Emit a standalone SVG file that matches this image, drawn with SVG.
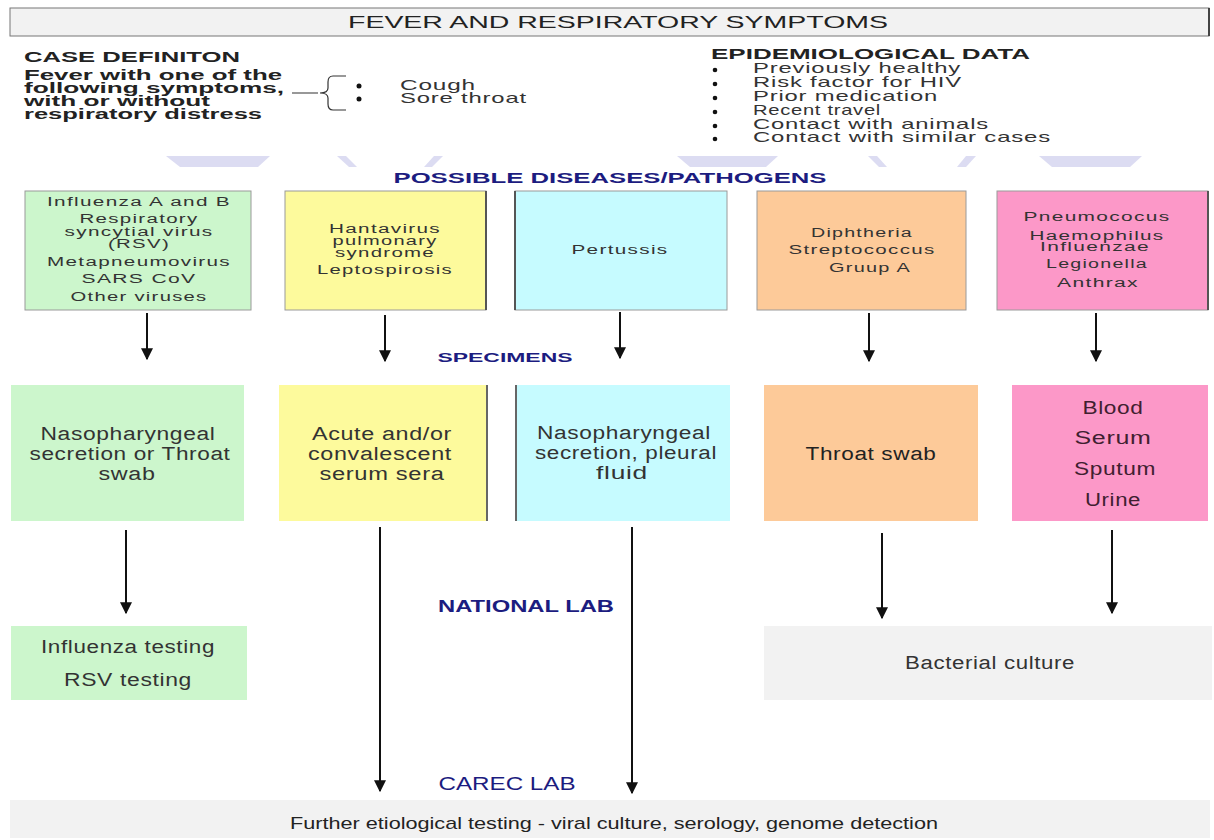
<svg xmlns="http://www.w3.org/2000/svg" width="1214" height="840" viewBox="0 0 1214 840">
<defs>
<style>
text{font-family:"Liberation Sans",Arial,sans-serif;fill:#333;}
.b{font-weight:bold;fill:#222;}
.nv{fill:#1c1c80;font-weight:bold;}
.nvr{fill:#1c1c80;}
.dk{fill:#222;}
.pk{fill:#402030;}
.dz{font-size:12.5px;text-anchor:middle;letter-spacing:0.8px;}
.sp{font-size:18px;text-anchor:middle;letter-spacing:0.5px;}
.ep{font-size:14.5px;letter-spacing:0.5px;}
.lav{fill:#dcdcf2;}
.arr{stroke:#111;stroke-width:2;fill:none;marker-end:url(#ah);}
</style>
<marker id="ah" viewBox="0 0 10 10" refX="9" refY="5" markerWidth="6" markerHeight="6" markerUnits="strokeWidth" orient="auto">
<path d="M0,0 L10,5 L0,10 z" fill="#111"/>
</marker>
</defs>
<rect width="1214" height="840" fill="#fff"/>

<g id="title">
<rect x="10" y="8" width="1199" height="28" fill="#f2f2f2" stroke="#777" stroke-width="1"/>
<line x1="1209" y1="8" x2="1209" y2="36" stroke="#444" stroke-width="2"/>
<text x="618" y="28" font-size="17" text-anchor="middle" textLength="540" lengthAdjust="spacingAndGlyphs" class="dk">FEVER AND RESPIRATORY SYMPTOMS</text>
</g>

<g id="case-definition">
<text x="24" y="62" font-size="14" class="b" textLength="216" lengthAdjust="spacingAndGlyphs">CASE DEFINITON</text>
<text x="24" y="80" font-size="14.5" class="b" textLength="258" lengthAdjust="spacingAndGlyphs">Fever with one of the</text>
<text x="24" y="93" font-size="14.5" class="b" textLength="260" lengthAdjust="spacingAndGlyphs">following symptoms,</text>
<text x="24" y="106" font-size="14.5" class="b" textLength="186" lengthAdjust="spacingAndGlyphs">with or without</text>
<text x="24" y="119" font-size="14.5" class="b" textLength="238" lengthAdjust="spacingAndGlyphs">respiratory distress</text>
<path d="M292,93 L318,93 M346,76 L333,76 Q328,76 328,82 L328,88 Q328,93 320,93 Q328,93 328,98 L328,104 Q328,110 333,110 L346,110" stroke="#333" stroke-width="1.2" fill="none"/>
<circle cx="359" cy="86" r="2.5" fill="#111"/>
<circle cx="359" cy="99" r="2.5" fill="#111"/>
<text x="400" y="90" class="ep" textLength="76" lengthAdjust="spacingAndGlyphs">Cough</text>
<text x="400" y="103" class="ep" textLength="127" lengthAdjust="spacingAndGlyphs">Sore throat</text>
</g>

<g id="epidemiological-data">
<text x="711" y="59" font-size="14" class="b" textLength="319" lengthAdjust="spacingAndGlyphs">EPIDEMIOLOGICAL DATA</text>
<circle cx="715" cy="70" r="2.3" fill="#111"/>
<circle cx="715" cy="84" r="2.3" fill="#111"/>
<circle cx="715" cy="98" r="2.3" fill="#111"/>
<circle cx="715" cy="112" r="2.3" fill="#111"/>
<circle cx="715" cy="126" r="2.3" fill="#111"/>
<circle cx="715" cy="139" r="2.3" fill="#111"/>
<text x="753" y="73" class="ep" textLength="208" lengthAdjust="spacingAndGlyphs">Previously healthy</text>
<text x="753" y="87" class="ep" textLength="209" lengthAdjust="spacingAndGlyphs">Risk factor for HIV</text>
<text x="753" y="101" class="ep" textLength="185" lengthAdjust="spacingAndGlyphs">Prior medication</text>
<text x="753" y="115" class="ep" textLength="128" lengthAdjust="spacingAndGlyphs">Recent travel</text>
<text x="753" y="129" class="ep" textLength="236" lengthAdjust="spacingAndGlyphs">Contact with animals</text>
<text x="753" y="142" class="ep" textLength="298" lengthAdjust="spacingAndGlyphs">Contact with similar cases</text>
</g>

<g id="background-shapes">
<polygon class="lav" points="166,156 270,156 258,167 180,167"/>
<polygon class="lav" points="337,156 346,156 357,167 349,167"/>
<polygon class="lav" points="434,156 443,156 432,167 424,167"/>
<polygon class="lav" points="677,156 778,156 766,167 690,167"/>
<polygon class="lav" points="868,156 877,156 887,167 879,167"/>
<polygon class="lav" points="966,156 976,156 966,167 957,167"/>
<polygon class="lav" points="1039,156 1142,156 1130,167 1052,167"/>
</g>

<g id="label-diseases">
<text x="610" y="183" font-size="14" class="nv" text-anchor="middle" textLength="433" lengthAdjust="spacingAndGlyphs">POSSIBLE DISEASES/PATHOGENS</text>
</g>

<g id="disease-viral">
<rect x="25" y="191" width="226" height="119" fill="#ccf6cc" stroke="#9a9a9a" stroke-width="1"/>
<text x="139" y="206" class="dz" textLength="184" lengthAdjust="spacingAndGlyphs">Influenza A and B</text>
<text x="139" y="223" class="dz" textLength="119" lengthAdjust="spacingAndGlyphs">Respiratory</text>
<text x="139" y="236" class="dz" textLength="149" lengthAdjust="spacingAndGlyphs">syncytial virus</text>
<text x="139" y="248" class="dz" textLength="62" lengthAdjust="spacingAndGlyphs">(RSV)</text>
<text x="139" y="266" class="dz" textLength="184" lengthAdjust="spacingAndGlyphs">Metapneumovirus</text>
<text x="139" y="283" class="dz" textLength="115" lengthAdjust="spacingAndGlyphs">SARS CoV</text>
<text x="139" y="301" class="dz" textLength="137" lengthAdjust="spacingAndGlyphs">Other viruses</text>
</g>

<g id="disease-hanta">
<rect x="285" y="191" width="201" height="119" fill="#fdfa9c" stroke="#9a9a9a" stroke-width="1"/>
<line x1="486" y1="191" x2="486" y2="310" stroke="#555" stroke-width="2"/>
<text x="385" y="233" class="dz" textLength="112" lengthAdjust="spacingAndGlyphs">Hantavirus</text>
<text x="385" y="245" class="dz" textLength="105" lengthAdjust="spacingAndGlyphs">pulmonary</text>
<text x="385" y="257" class="dz" textLength="100" lengthAdjust="spacingAndGlyphs">syndrome</text>
<text x="385" y="274" class="dz" textLength="136" lengthAdjust="spacingAndGlyphs">Leptospirosis</text>
</g>

<g id="disease-pertussis">
<rect x="515" y="191" width="212" height="119" fill="#c6fbff" stroke="#9a9a9a" stroke-width="1"/>
<line x1="515" y1="191" x2="515" y2="310" stroke="#555" stroke-width="2"/>
<text x="620" y="254" class="dz" textLength="97" lengthAdjust="spacingAndGlyphs">Pertussis</text>
</g>

<g id="disease-diphtheria">
<rect x="757" y="191" width="209" height="119" fill="#fdca99" stroke="#9a9a9a" stroke-width="1"/>
<text x="862" y="237" class="dz" textLength="102" lengthAdjust="spacingAndGlyphs">Diphtheria</text>
<text x="862" y="254" class="dz" textLength="147" lengthAdjust="spacingAndGlyphs">Streptococcus</text>
<text x="870" y="272" class="dz" textLength="82" lengthAdjust="spacingAndGlyphs">Gruup A</text>
</g>

<g id="disease-bacterial">
<rect x="997" y="191" width="211" height="119" fill="#fc98c8" stroke="#9a9a9a" stroke-width="1"/>
<line x1="1208" y1="191" x2="1208" y2="310" stroke="#555" stroke-width="2"/>
<text x="1097" y="221" class="dz" textLength="147" lengthAdjust="spacingAndGlyphs">Pneumococus</text>
<text x="1097" y="240" class="dz" textLength="135" lengthAdjust="spacingAndGlyphs">Haemophilus</text>
<text x="1095" y="251" class="dz" textLength="110" lengthAdjust="spacingAndGlyphs">Influenzae</text>
<text x="1097" y="268" class="dz" textLength="102" lengthAdjust="spacingAndGlyphs">Legionella</text>
<text x="1098" y="287" class="dz" textLength="82" lengthAdjust="spacingAndGlyphs">Anthrax</text>
</g>

<g id="label-specimens">
<text x="505" y="362" font-size="12" class="nv" text-anchor="middle" textLength="135" lengthAdjust="spacingAndGlyphs">SPECIMENS</text>
</g>

<g id="specimen-naso">
<rect x="11" y="385" width="233" height="136" fill="#ccf6cc"/>
<text x="128" y="440" class="sp" textLength="175" lengthAdjust="spacingAndGlyphs">Nasopharyngeal</text>
<text x="130" y="460" class="sp" textLength="201" lengthAdjust="spacingAndGlyphs">secretion or Throat</text>
<text x="127" y="480" class="sp" textLength="57" lengthAdjust="spacingAndGlyphs">swab</text>
</g>

<g id="specimen-serum">
<rect x="279" y="385" width="208" height="136" fill="#fdfa9c"/>
<line x1="487" y1="385" x2="487" y2="521" stroke="#666" stroke-width="2"/>
<text x="382" y="440" class="sp" textLength="140" lengthAdjust="spacingAndGlyphs">Acute and/or</text>
<text x="380" y="460" class="sp" textLength="144" lengthAdjust="spacingAndGlyphs">convalescent</text>
<text x="382" y="480" class="sp" textLength="125" lengthAdjust="spacingAndGlyphs">serum sera</text>
</g>

<g id="specimen-pleural">
<rect x="515" y="385" width="215" height="136" fill="#c6fbff"/>
<line x1="516" y1="385" x2="516" y2="521" stroke="#666" stroke-width="2"/>
<text x="624" y="439" class="sp" textLength="174" lengthAdjust="spacingAndGlyphs">Nasopharyngeal</text>
<text x="626" y="459" class="sp" textLength="182" lengthAdjust="spacingAndGlyphs">secretion, pleural</text>
<text x="622" y="479" class="sp" textLength="52" lengthAdjust="spacingAndGlyphs">fluid</text>
</g>

<g id="specimen-throat">
<rect x="764" y="385" width="214" height="136" fill="#fdca99"/>
<text x="871" y="460" class="sp dk" textLength="131" lengthAdjust="spacingAndGlyphs">Throat swab</text>
</g>

<g id="specimen-blood">
<rect x="1012" y="385" width="196" height="136" fill="#fc98c8"/>
<text x="1113" y="414" class="sp pk" textLength="61" lengthAdjust="spacingAndGlyphs">Blood</text>
<text x="1113" y="444" class="sp pk" textLength="77" lengthAdjust="spacingAndGlyphs">Serum</text>
<text x="1115" y="475" class="sp pk" textLength="82" lengthAdjust="spacingAndGlyphs">Sputum</text>
<text x="1113" y="506" class="sp pk" textLength="56" lengthAdjust="spacingAndGlyphs">Urine</text>
</g>

<g id="label-national">
<text x="526" y="612" font-size="16" class="nv" text-anchor="middle" textLength="176" lengthAdjust="spacingAndGlyphs">NATIONAL LAB</text>
</g>

<g id="result-influenza">
<rect x="11" y="626" width="236" height="74" fill="#ccf6cc"/>
<text x="128" y="653" class="sp" textLength="174" lengthAdjust="spacingAndGlyphs">Influenza testing</text>
<text x="128" y="686" class="sp" textLength="128" lengthAdjust="spacingAndGlyphs">RSV testing</text>
</g>

<g id="result-bacterial">
<rect x="764" y="626" width="448" height="74" fill="#f2f2f2"/>
<text x="990" y="669" class="sp" textLength="170" lengthAdjust="spacingAndGlyphs">Bacterial culture</text>
</g>

<g id="label-carec">
<text x="507" y="790" font-size="19" class="nvr" text-anchor="middle" textLength="137" lengthAdjust="spacingAndGlyphs">CAREC LAB</text>
</g>

<g id="result-further">
<rect x="10" y="800" width="1200" height="38" fill="#f2f2f2"/>
<text x="614" y="829" font-size="17" text-anchor="middle" textLength="648" lengthAdjust="spacingAndGlyphs" class="dk">Further etiological testing - viral culture, serology, genome detection</text>
</g>

<g id="connectors">
<line class="arr" x1="147" y1="313" x2="147" y2="359"/>
<line class="arr" x1="385" y1="315" x2="385" y2="361"/>
<line class="arr" x1="620" y1="312" x2="620" y2="358"/>
<line class="arr" x1="869" y1="313" x2="869" y2="361"/>
<line class="arr" x1="1096" y1="313" x2="1096" y2="361"/>
<line class="arr" x1="126" y1="530" x2="126" y2="613"/>
<line class="arr" x1="380" y1="527" x2="380" y2="791"/>
<line class="arr" x1="632" y1="527" x2="632" y2="793"/>
<line class="arr" x1="882" y1="533" x2="882" y2="618"/>
<line class="arr" x1="1112" y1="530" x2="1112" y2="613"/>
</g>
</svg>
